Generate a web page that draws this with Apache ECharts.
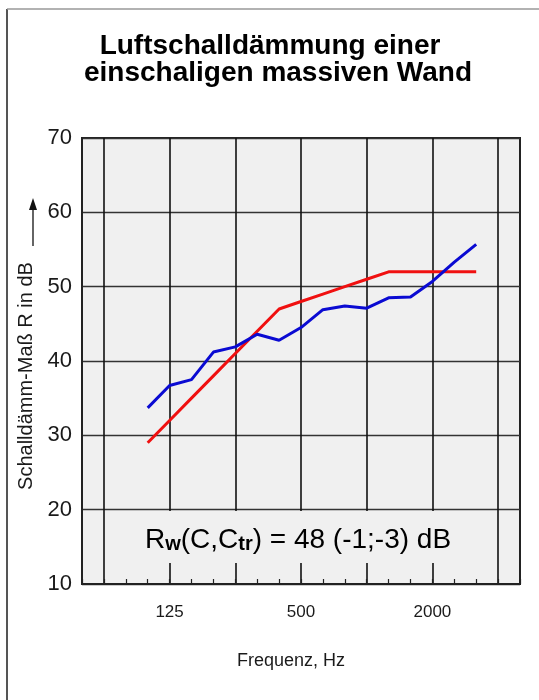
<!DOCTYPE html>
<html><head><meta charset="utf-8">
<script src="https://cdn.jsdelivr.net/npm/echarts@6/dist/echarts.min.js"></script>
<style>html,body{margin:0;padding:0;background:#fff}#c{width:539px;height:700px}</style>
</head><body><div id="c"></div>
<script>
// Third-octave band centre frequencies on the axis (Hz)
const bandCategories = ['50','63','80','100','125','160','200','250','315','400','500','630','800','1000','1250','1600','2000','2500','3150','4000','5000'];
// Measured bands
const measuredBands = ['100','125','160','200','250','315','400','500','630','800','1000','1250','1600','2000','2500','3150'];
// Measured sound reduction index R (blue)
const measuredValues = [33.7,36.7,37.5,41.2,41.9,43.6,42.8,44.5,46.9,47.4,47.1,48.5,48.6,50.7,53.3,55.7];
// Shifted reference curve (red)
const referenceValues = [29,32,35,38,41,44,47,48,49,50,51,52,52,52,52,52];
// Axis labelling
const xTickLabels = ['125','500','2000'];
const gridLineBands = ['63','125','250','500','1000','2000','4000'];
const yMin = 10, yMax = 70, yStep = 10;

const FONT = '"Liberation Sans", Arial, sans-serif';
const chart = echarts.init(document.getElementById('c'), null, {renderer: 'canvas'});

const option = {
  animation: false,
  backgroundColor: '#ffffff',
  grid: {
    left: 82, right: 19, top: 138, bottom: 116,
    show: true, backgroundColor: '#f0f0f0', borderColor: '#222', borderWidth: 2
  },
  xAxis: {
    type: 'category',
    data: bandCategories,
    boundaryGap: false,
    axisLine: {show: true, lineStyle: {color: '#222', width: 2}},
    axisTick: {show: true, inside: true, length: 5, interval: 0, lineStyle: {color: '#222', width: 1.2}},
    axisLabel: {
      interval: 0, margin: 20,
      fontFamily: FONT, fontSize: 17, color: '#1a1a1a',
      formatter: v => xTickLabels.indexOf(v) >= 0 ? v : ''
    },
    splitLine: {
      show: true,
      interval: (idx, v) => gridLineBands.indexOf(v) >= 0,
      lineStyle: {color: '#111', width: 1.6}
    }
  },
  yAxis: {
    type: 'value',
    min: yMin, max: yMax, interval: yStep,
    axisLine: {show: true, lineStyle: {color: '#222', width: 2}},
    axisTick: {show: false},
    axisLabel: {margin: 10, fontFamily: FONT, fontSize: 22, color: '#1a1a1a'},
    splitLine: {show: true, lineStyle: {color: '#333', width: 1.4}}
  },
  series: [
    {
      type: 'line', name: 'Bezugskurve',
      data: measuredBands.map((b, i) => [b, referenceValues[i]]),
      symbol: 'none', lineStyle: {color: '#f01010', width: 3}, z: 3
    },
    {
      type: 'line', name: 'Messung',
      data: measuredBands.map((b, i) => [b, measuredValues[i]]),
      symbol: 'none', lineStyle: {color: '#0a0ad2', width: 3}, z: 4
    }
  ],
  graphic: [
    // page frame
    {type: 'line', shape: {x1: 7, y1: 9, x2: 7, y2: 700}, style: {stroke: '#555', lineWidth: 2}},
    {type: 'line', shape: {x1: 7, y1: 9, x2: 539, y2: 9}, style: {stroke: '#999', lineWidth: 1.5}},
    // title
    {type: 'text', x: 270, y: 46, style: {text: 'Luftschalldämmung einer', font: 'bold 28px ' + FONT, fill: '#000', textAlign: 'center', textVerticalAlign: 'middle'}},
    {type: 'text', x: 278, y: 73, style: {text: 'einschaligen massiven Wand', font: 'bold 28px ' + FONT, fill: '#000', textAlign: 'center', textVerticalAlign: 'middle'}},
    // y axis name
    {type: 'text', x: 26, y: 376, rotation: Math.PI / 2, style: {text: 'Schalldämm-Maß R in dB', font: '20px ' + FONT, fill: '#1a1a1a', textAlign: 'center', textVerticalAlign: 'middle'}},
    // arrow
    {type: 'line', shape: {x1: 33, y1: 246, x2: 33, y2: 208}, style: {stroke: '#111', lineWidth: 1.3}},
    {type: 'polygon', shape: {points: [[29, 210], [37, 210], [33, 198]]}, style: {fill: '#111'}},
    // x axis name
    {type: 'text', x: 291, y: 661, style: {text: 'Frequenz, Hz', font: '18px ' + FONT, fill: '#1a1a1a', textAlign: 'center', textVerticalAlign: 'middle'}},
    // annotation box
    {type: 'rect', shape: {x: 110, y: 511, width: 380, height: 52}, style: {fill: '#f0f0f0'}, z: 10},
    {type: 'text', x: 298, y: 537, z: 11, style: {
      text: '{a|R}{b|w}{a|(C,C}{b|tr}{a|) = 48 (-1;-3) dB}',
      textAlign: 'center', textVerticalAlign: 'middle',
      rich: {
        a: {fontFamily: FONT, fontSize: 28, color: '#111', lineHeight: 34, verticalAlign: 'bottom'},
        b: {fontFamily: FONT, fontSize: 20, fontWeight: 'bold', color: '#111', lineHeight: 25, verticalAlign: 'bottom'}
      }
    }}
  ]
};
chart.setOption(option);
</script>
</body></html>
